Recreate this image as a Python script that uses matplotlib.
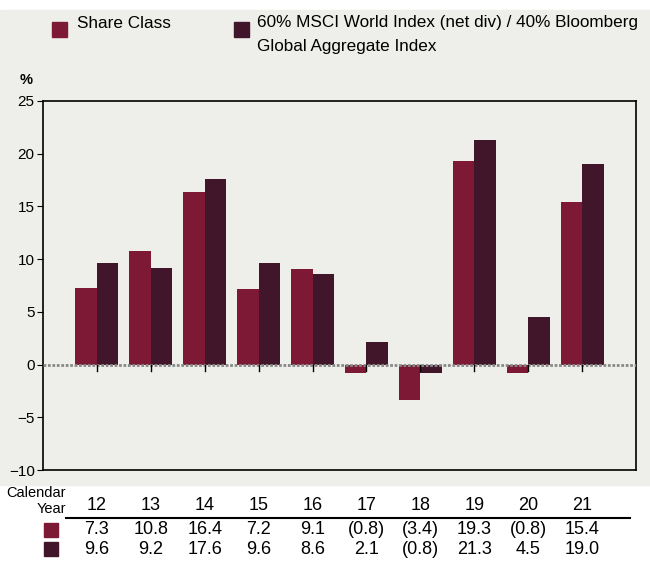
import matplotlib.pyplot as plt
from matplotlib.patches import Rectangle

plt.rcParams['font.family'] = ['Liberation Sans', 'DejaVu Sans']

years = ["12", "13", "14", "15", "16", "17", "18", "19", "20", "21"]
share_class = [7.3, 10.8, 16.4, 7.2, 9.1, -0.8, -3.4, 19.3, -0.8, 15.4]
benchmark = [9.6, 9.2, 17.6, 9.6, 8.6, 2.1, -0.8, 21.3, 4.5, 19.0]
share_name = "Share Class"
bench_lines = ["60% MSCI World Index (net div) / 40% Bloomberg",
               "Global Aggregate Index"]

c_share = "#7d1934"
c_bench = "#42162a"
bg = "#eeeeea"

W, H = 650, 561
fig = plt.figure(figsize=(6.5, 5.61), dpi=100, facecolor="white")


def fy(px):
    # pixel row from top -> figure fraction
    return 1 - px / H


# grey panel behind chart
fig.patches.append(Rectangle((0, fy(485)), 1, (485 - 10) / H,
                             transform=fig.transFigure, color=bg, zorder=-1))

ax = fig.add_axes([43 / W, fy(470), (636 - 43) / W, (470 - 101) / H])
ax.set_facecolor(bg)

x = list(range(len(years)))
ax.bar([i - 0.2 for i in x], share_class, width=0.4, color=c_share, zorder=2)
ax.bar([i + 0.2 for i in x], benchmark, width=0.4, color=c_bench, zorder=2)

ax.set_xlim(-1, 10)
ax.set_ylim(-10, 25)
ax.set_yticks(range(-10, 30, 5))
ax.tick_params(axis='y', labelsize=11, length=4, width=0.8, pad=2)
ax.set_xticks([])
for s in ax.spines.values():
    s.set_linewidth(1.2)

# dotted zero line with small ticks below
ax.axhline(0, color="#888888", lw=2, ls=(0, (1, 0.6)), zorder=3)
for i in x:
    ax.plot([i, i], [0, -0.6], color="black", lw=1, zorder=3)

fig.text(20 / W, fy(80), "%", fontsize=10.5, fontweight="bold", va="center")

# legend
fig.patches.append(Rectangle((52 / W, fy(37)), 15 / W, 15 / H,
                             transform=fig.transFigure, color=c_share))
fig.text(77 / W, fy(23), share_name, fontsize=12.3, va="center")
fig.patches.append(Rectangle((234 / W, fy(37)), 15 / W, 15 / H,
                             transform=fig.transFigure, color=c_bench))
fig.text(257 / W, fy(23), bench_lines[0], fontsize=12.3, va="center")
fig.text(257 / W, fy(47), bench_lines[1], fontsize=12.3, va="center")

# table below
fig.text(66 / W, fy(493), "Calendar", fontsize=10.5, ha="right", va="center")
fig.text(66 / W, fy(509), "Year", fontsize=10.5, ha="right", va="center")


def fmt(v):
    return "(%.1f)" % abs(v) if v < 0 else "%.1f" % v


for i, yr in enumerate(years):
    xd = ax.transData.transform((i, 0))[0]
    xf = fig.transFigure.inverted().transform((xd, 0))[0]
    fig.text(xf, fy(506), yr, fontsize=13, ha="center", va="center")
    fig.text(xf, fy(530), fmt(share_class[i]), fontsize=13, ha="center", va="center")
    fig.text(xf, fy(549), fmt(benchmark[i]), fontsize=13, ha="center", va="center")

fig.add_artist(plt.Line2D([66 / W, 630 / W], [fy(518), fy(518)],
                          transform=fig.transFigure, color="black", lw=1.5))
fig.patches.append(Rectangle((44 / W, fy(537)), 14 / W, 14 / H,
                             transform=fig.transFigure, color=c_share))
fig.patches.append(Rectangle((44 / W, fy(556)), 14 / W, 14 / H,
                             transform=fig.transFigure, color=c_bench))

fig.savefig("out.png", dpi=100, facecolor="white")
